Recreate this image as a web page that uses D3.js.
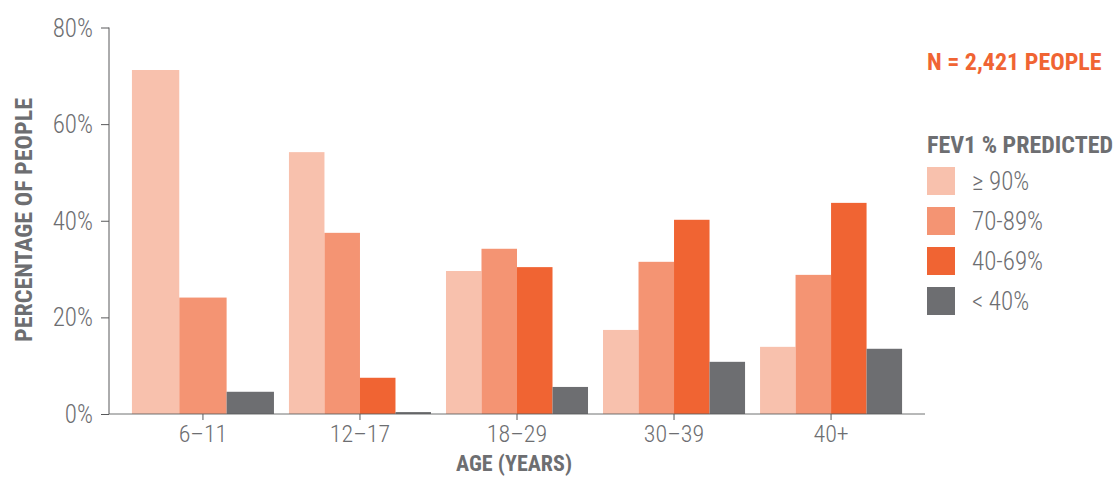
<!DOCTYPE html>
<html>
<head>
<meta charset="utf-8">
<script src="https://cdn.jsdelivr.net/npm/d3@7"></script>
<style>
  body { margin: 0; background: #fff; }
  svg text { font-family: "Roboto Condensed", "Liberation Sans Narrow", "DejaVu Sans Condensed", "Liberation Sans", sans-serif; }
</style>
</head>
<body>
<svg id="chart" width="1115" height="477"></svg>
<script>
// values (percent of people)
var ageGroups = ["6\u201311", "12\u201317", "18\u201329", "30\u201339", "40+"];
var fevKeys = ["\u2265 90%", "70-89%", "40-69%", "< 40%"];
var ge90 = [71.2, 54.2, 29.6, 17.4, 13.9];
var p70to89 = [24.1, 37.5, 34.2, 31.5, 28.8];
var p40to69 = [null, 7.5, 30.4, 40.2, 43.7];
var lt40 = [4.6, 0.4, 5.6, 10.8, 13.5];
var yTicks = [0, 20, 40, 60, 80];
var colors = ["#f8c1ad", "#f49473", "#f06433", "#6d6e71"];

var series = [ge90, p70to89, p40to69, lt40];
var textGray = "#6d6e71";

var svg = d3.select("#chart");

var x = d3.scaleBand()
    .domain(ageGroups)
    .range([109, 925])
    .paddingInner(0.0955)
    .paddingOuter(0.146);

var y = d3.scaleLinear()
    .domain([0, 80])
    .range([414, 27.5]);

// bars, one group per age band; missing series are left out and the rest share the band
var groups = svg.append("g").selectAll("g")
    .data(ageGroups)
  .enter().append("g")
    .attr("transform", function(d) { return "translate(" + x(d) + ",0)"; });

groups.each(function(age, i) {
  var rows = fevKeys.map(function(k, j) { return {key: k, value: series[j][i], color: colors[j]}; })
      .filter(function(r) { return r.value != null; });
  var inner = d3.scaleBand()
      .domain(rows.map(function(r) { return r.key; }))
      .range([0, x.bandwidth()]);
  d3.select(this).selectAll("rect")
      .data(rows)
    .enter().append("rect")
      .attr("x", function(r) { return inner(r.key); })
      .attr("y", function(r) { return y(r.value); })
      .attr("width", inner.bandwidth())
      .attr("height", function(r) { return y(0) - y(r.value); })
      .style("fill", function(r) { return r.color; });
});

// y axis
var yAxis = svg.append("g")
    .attr("transform", "translate(109,0)")
    .call(d3.axisLeft(y).tickValues(yTicks).tickSize(8).tickPadding(8)
      .tickFormat(function(d) { return d + "%"; }));
yAxis.select(".domain").attr("d", "M0," + y(80) + "V" + y(0)).style("stroke", "#58595b");
yAxis.selectAll(".tick line").style("stroke", "#58595b");
yAxis.selectAll(".tick text")
    .style("font-size", "25px")
    .style("font-weight", 300)
    .style("fill", textGray)
    .attr("dy", "0.34em");

// x axis
var xAxis = svg.append("g")
    .attr("transform", "translate(0,414)")
    .call(d3.axisBottom(x).tickSize(6).tickPadding(5));
xAxis.select(".domain").attr("d", "M109,0H925").style("stroke", "#58595b").style("stroke-opacity", 0.85);
xAxis.selectAll(".tick line").style("stroke", "#58595b");
xAxis.selectAll(".tick text")
    .style("font-size", "24px")
    .style("font-weight", 300)
    .style("fill", textGray)
    .attr("dy", "0.71em");

// axis titles
svg.append("text")
    .attr("transform", "translate(32,220) rotate(-90)")
    .attr("text-anchor", "middle")
    .style("font-size", "24px")
    .style("font-weight", "bold")
    .style("fill", textGray)
    .text("PERCENTAGE OF PEOPLE");

svg.append("text")
    .attr("x", 514)
    .attr("y", 471)
    .attr("text-anchor", "middle")
    .style("font-size", "22px")
    .style("font-weight", "bold")
    .style("fill", textGray)
    .text("AGE (YEARS)");

// sample size note
svg.append("text")
    .attr("x", 927)
    .attr("y", 70)
    .style("font-size", "24px")
    .style("font-weight", "bold")
    .style("fill", "#f06433")
    .text("N = 2,421 PEOPLE");

// legend
svg.append("text")
    .attr("x", 927)
    .attr("y", 153)
    .style("font-size", "24px")
    .style("font-weight", "bold")
    .style("fill", textGray)
    .text("FEV1 % PREDICTED");

var legend = svg.append("g").selectAll("g")
    .data(fevKeys)
  .enter().append("g")
    .attr("transform", function(d, i) { return "translate(927," + (167 + i * 40) + ")"; });

legend.append("rect")
    .attr("width", 28)
    .attr("height", 28)
    .style("fill", function(d, i) { return colors[i]; });

legend.append("text")
    .attr("x", 45)
    .attr("y", 23)
    .style("font-size", "25px")
    .style("font-weight", 300)
    .style("fill", textGray)
    .text(function(d) { return d; });
</script>
</body>
</html>
